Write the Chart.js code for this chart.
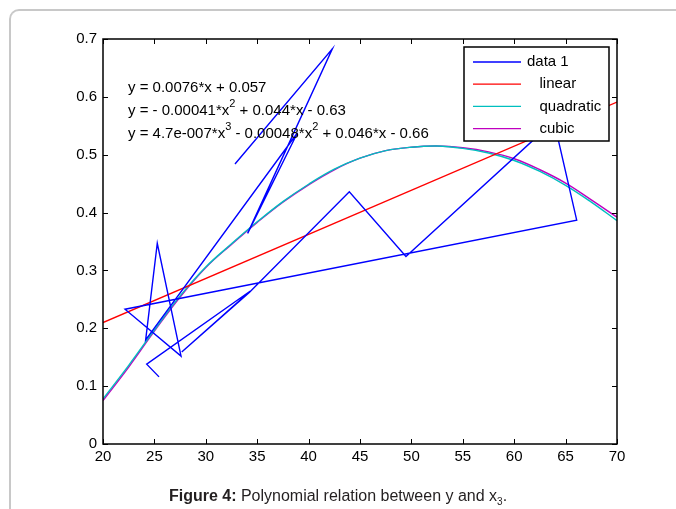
<!DOCTYPE html>
<html>
<head>
<meta charset="utf-8">
<script src="https://cdn.jsdelivr.net/npm/chart.js@4.4.0/dist/chart.umd.min.js"></script>
<style>
    html, body { margin: 0; padding: 0; background: #fff; }
    #wrap { position: relative; width: 676px; height: 509px; overflow: hidden; }
    #frame { position: absolute; left: 9px; top: 9px; width: 720px; height: 560px;
             border-top: 2px solid #c8c8c8; border-left: 2px solid #c8c8c8; border-top-left-radius: 10px; }
    #chart { position: absolute; left: 0; top: 0; }
    #caption { position: absolute; left: 0; top: 487px; width: 676px; text-align: center;
               font: 16px "Liberation Sans", Arial, sans-serif; color: #231f20; }
    #caption sub { font-size: 10px; }
</style>
</head>
<body>
<div id="wrap">
    <div id="frame"></div>
    <canvas id="chart" width="676" height="509"></canvas>
    <div id="caption"><b>Figure 4:</b> Polynomial relation between y and x<sub>3</sub>.</div>
</div>
<script>
// raw data, plotted in the order it was recorded
const dataX = [32.84, 42.31, 34.07, 38.92, 24.15, 25.28, 27.59, 22.14, 66.08, 63.87, 49.47, 43.96, 34.23, 27.66, 34.30, 24.25, 25.45];
const dataY = [0.484, 0.683, 0.364, 0.538, 0.180, 0.347, 0.152, 0.233, 0.387, 0.558, 0.324, 0.436, 0.262, 0.159, 0.264, 0.138, 0.116];

// fitted curves
const fitX = [20, 22.5, 25, 27.5, 30, 32.5, 35, 37.5, 40, 42.5, 45, 47.5, 50, 52.5, 55, 57.5, 60, 62.5, 65, 67.5, 70];
const linearX = [20, 70];
const linearY = [0.210, 0.591];
const quadY = [0.078, 0.136, 0.197, 0.256, 0.306, 0.346, 0.384, 0.419, 0.449, 0.475, 0.494, 0.507, 0.513, 0.515, 0.511, 0.503, 0.490, 0.471, 0.447, 0.418, 0.386];
const cubicY = [0.075, 0.133, 0.195, 0.254, 0.305, 0.345, 0.383, 0.418, 0.448, 0.474, 0.494, 0.507, 0.513, 0.515, 0.512, 0.505, 0.493, 0.474, 0.451, 0.422, 0.392];

const seriesLabels = ['data 1', '   linear', '   quadratic', '   cubic'];
const xTicks = [20, 25, 30, 35, 40, 45, 50, 55, 60, 65, 70];
const yTicks = [0, 0.1, 0.2, 0.3, 0.4, 0.5, 0.6, 0.7];

// equation texts: [normal, superscript, normal, ...]
const equations = [
    ['y = 0.0076*x + 0.057'],
    ['y = - 0.00041*x', '2', ' + 0.044*x - 0.63'],
    ['y = 4.7e-007*x', '3', ' - 0.00048*x', '2', ' + 0.046*x - 0.66']
];
const equationY = [0.616, 0.576, 0.536];

const FONT = '"Liberation Sans", Arial, sans-serif';

function pts(xs, ys) {
    return xs.map((x, i) => ({ x: x, y: ys[i] }));
}

// box, inward ticks, equations and legend in MATLAB style
const matlabStyle = {
    id: 'matlabStyle',
    afterDraw(chart) {
        const ctx = chart.ctx;
        const a = chart.chartArea;
        const xs = chart.scales.x;
        const ys = chart.scales.y;
        const tl = 5;

        ctx.save();
        ctx.strokeStyle = '#000';
        ctx.lineWidth = 1.5;
        ctx.strokeRect(a.left, a.top, a.right - a.left, a.bottom - a.top);
        ctx.lineWidth = 1;
        ctx.beginPath();
        xTicks.forEach(v => {
            const px = Math.round(xs.getPixelForValue(v)) + 0.5;
            ctx.moveTo(px, a.bottom); ctx.lineTo(px, a.bottom - tl);
            ctx.moveTo(px, a.top); ctx.lineTo(px, a.top + tl);
        });
        yTicks.forEach(v => {
            const py = Math.round(ys.getPixelForValue(v)) + 0.5;
            ctx.moveTo(a.left, py); ctx.lineTo(a.left + tl, py);
            ctx.moveTo(a.right, py); ctx.lineTo(a.right - tl, py);
        });
        ctx.stroke();

        // equations
        ctx.fillStyle = '#000';
        ctx.textBaseline = 'middle';
        equations.forEach((parts, i) => {
            let px = xs.getPixelForValue(22.43);
            const py = ys.getPixelForValue(equationY[i]);
            parts.forEach((p, j) => {
                const sup = j % 2 === 1;
                ctx.font = (sup ? '11px ' : '15px ') + FONT;
                ctx.fillText(p, px, sup ? py - 7 : py);
                px += ctx.measureText(p).width;
            });
        });

        // legend box
        const lx = 464, ly = 47, lw = 145, lh = 94;
        ctx.fillStyle = '#fff';
        ctx.fillRect(lx, ly, lw, lh);
        ctx.lineWidth = 1.5;
        ctx.strokeStyle = '#000';
        ctx.strokeRect(lx, ly, lw, lh);
        ctx.font = '15px ' + FONT;
        chart.data.datasets.forEach((ds, i) => {
            const ry = ly + 15 + i * 22.2;
            ctx.strokeStyle = ds.borderColor;
            ctx.lineWidth = 1.3;
            ctx.beginPath();
            ctx.moveTo(lx + 9, ry); ctx.lineTo(lx + 57, ry);
            ctx.stroke();
            ctx.fillStyle = '#000';
            ctx.fillText(ds.label, lx + 63, ry);
        });
        ctx.restore();
    }
};

const colors = ['#0000ff', '#ff0000', '#00bfbf', '#bf00bf'];

new Chart(document.getElementById('chart').getContext('2d'), {
    type: 'scatter',
    data: {
        datasets: [
            { label: seriesLabels[0], data: pts(dataX, dataY), borderColor: colors[0], tension: 0 },
            { label: seriesLabels[1], data: pts(linearX, linearY), borderColor: colors[1], tension: 0 },
            { label: seriesLabels[2], data: pts(fitX, quadY), borderColor: colors[2], tension: 0.4 },
            { label: seriesLabels[3], data: pts(fitX, cubicY), borderColor: colors[3], tension: 0.4 }
        ].map(ds => Object.assign(ds, { showLine: true, pointRadius: 0, borderWidth: 1.4, fill: false }))
    },
    options: {
        responsive: false,
        animation: false,
        layout: { padding: { left: 0, top: 39, right: 59, bottom: 35 } },
        plugins: { legend: { display: false }, tooltip: { enabled: false } },
        scales: {
            x: {
                type: 'linear', min: 20, max: 70,
                afterBuildTicks: s => { s.ticks = xTicks.map(v => ({ value: v })); },
                afterFit: s => { s.height = 30; },
                grid: { display: false, drawTicks: false },
                border: { display: false },
                ticks: { color: '#000', font: { family: FONT, size: 15 }, padding: 4, maxRotation: 0,
                         callback: v => String(v) }
            },
            y: {
                type: 'linear', min: 0, max: 0.7,
                afterBuildTicks: s => { s.ticks = yTicks.map(v => ({ value: v })); },
                afterFit: s => { s.width = 103; },
                grid: { display: false, drawTicks: false },
                border: { display: false },
                ticks: { color: '#000', font: { family: FONT, size: 15 }, padding: 6,
                         callback: v => String(Math.round(v * 10) / 10) }
            }
        }
    },
    plugins: [matlabStyle]
});
</script>
</body>
</html>
